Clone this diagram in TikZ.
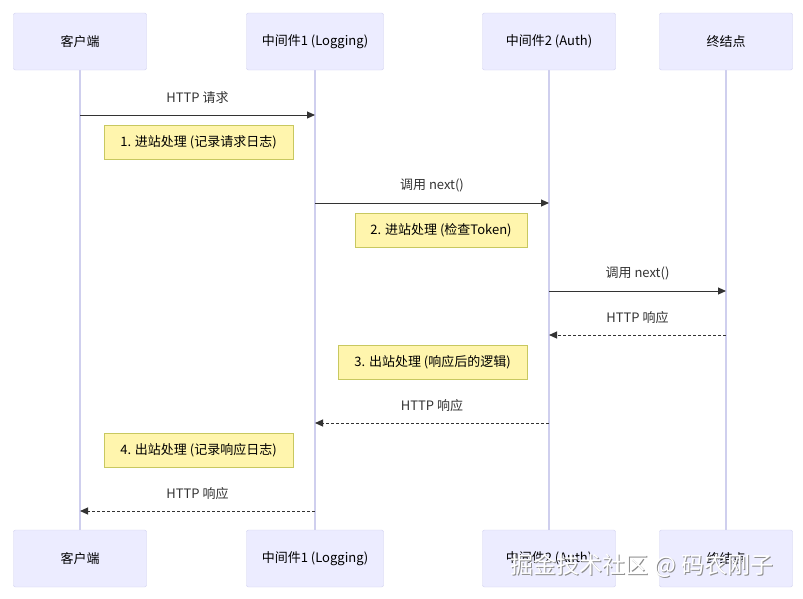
\documentclass[tikz,border=0pt]{standalone}
\usepackage{fontspec}
\setmainfont{Noto Sans CJK SC}
\usetikzlibrary{arrows.meta}
\definecolor{actfill}{HTML}{ECECFF}
\definecolor{actline}{HTML}{CFCFEE}
\definecolor{notefill}{HTML}{FFF5AD}
\definecolor{noteline}{HTML}{C8C860}
\definecolor{ink}{HTML}{333333}
\begin{document}
\begin{tikzpicture}[x=1pt,y=-1pt,inner sep=0pt,outer sep=0pt,
actor/.style={draw=actline,fill=actfill,rounded corners=2pt,minimum width=133pt,minimum height=57pt,font=\fontsize{13}{15}\selectfont},
note/.style={draw=noteline,fill=notefill,minimum height=34pt,minimum width=189pt,font=\fontsize{13}{15}\selectfont},
life/.style={draw=actline,line width=1.2pt},
msg/.style={draw=ink,line width=1pt,-{Triangle[length=8pt,width=7pt]}},
ret/.style={msg,dash pattern=on 3pt off 2pt},
lbl/.style={font=\fontsize{13}{15}\selectfont,text=ink}]
\useasboundingbox (0,0) rectangle (803,598);

% lifelines first
\foreach \nm/\x in {cl/80,mw1/315,mw2/549,ep/726}{
  \draw[life] (\x,70) -- (\x,530);
}
% actors top and bottom
\node[actor] (clT) at (80,41.5) {客户端};
\node[actor,minimum width=137pt] (mw1T) at (315,41.5) {中间件1 (Logging)};
\node[actor] (mw2T) at (549,41.5) {中间件2 (Auth)};
\node[actor] (epT) at (726,41.5) {终结点};
\node[actor] (clB) at (80,558.5) {客户端};
\node[actor,minimum width=137pt] (mw1B) at (315,558.5) {中间件1 (Logging)};
\node[actor] (mw2B) at (549,558.5) {中间件2 (Auth)};
\node[actor] (epB) at (726,558.5) {终结点};

% messages
\coordinate (m1a) at (80,115); \coordinate (m1b) at (315,115);
\draw[msg] (m1a) -- node[lbl,above=11pt] {HTTP 请求} (m1b);
\node[note] (n1) at (198.5,142) {1. 进站处理 (记录请求日志)};
\coordinate (m2a) at (315,203); \coordinate (m2b) at (549,203);
\draw[msg] (m2a) -- node[lbl,above=11pt] {调用 next()} (m2b);
\node[note,minimum width=172pt] (n2) at (441,230) {2. 进站处理 (检查Token)};
\coordinate (m3a) at (549,291); \coordinate (m3b) at (726,291);
\draw[msg] (m3a) -- node[lbl,above=11pt] {调用 next()} (m3b);
\coordinate (r1a) at (726,335); \coordinate (r1b) at (549,335);
\draw[ret] (r1a) -- node[lbl,above=11pt] {HTTP 响应} (r1b);
\node[note] (n3) at (432.5,362) {3. 出站处理 (响应后的逻辑)};
\coordinate (r2a) at (549,423); \coordinate (r2b) at (315,423);
\draw[ret] (r2a) -- node[lbl,above=11pt] {HTTP 响应} (r2b);
\node[note] (n4) at (198.5,450) {4. 出站处理 (记录响应日志)};
\coordinate (r3a) at (315,511); \coordinate (r3b) at (80,511);
\draw[ret] (r3a) -- node[lbl,above=11pt] {HTTP 响应} (r3b);

% watermark
\node[font=\fontsize{23}{25}\selectfont,text=black!45] (wmS) at (643,567) {掘金技术社区 @ 码农刚子};
\node[font=\fontsize{23}{25}\selectfont,text=white] (wm) at (642,566) {掘金技术社区 @ 码农刚子};
\end{tikzpicture}
\end{document}
